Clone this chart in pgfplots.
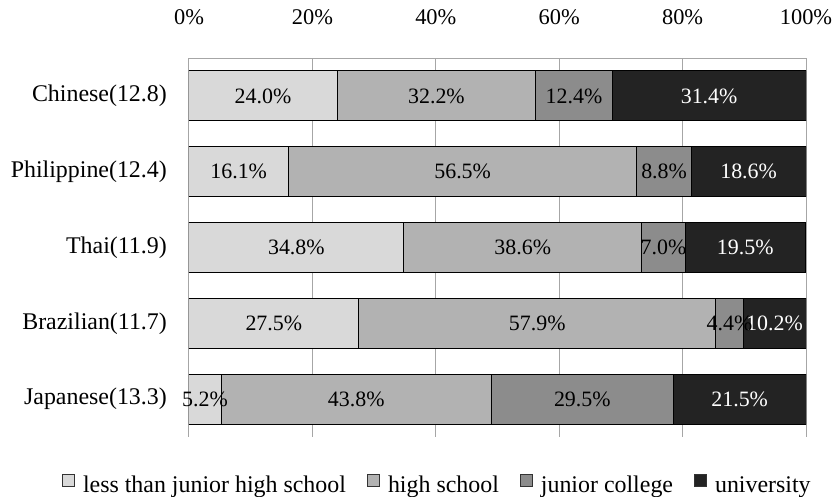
\documentclass[border=0pt]{standalone}
\usepackage{pgfplots}
\pgfplotsset{compat=1.18}
\usepackage{pgfplotstable}
\usepackage{fontspec}
\setmainfont{Liberation Serif}
\definecolor{cA}{HTML}{D9D9D9}
\definecolor{cB}{HTML}{B2B2B2}
\definecolor{cC}{HTML}{8C8C8C}
\definecolor{cD}{HTML}{232323}
\definecolor{gridc}{HTML}{A6A6A6}

\pgfplotstableread{
y v
0 24.0
1 16.1
2 34.8
3 27.5
4 5.2
}\tA
\pgfplotstableread{
y v
0 32.2
1 56.5
2 38.6
3 57.9
4 43.8
}\tB
\pgfplotstableread{
y v
0 12.4
1 8.8
2 7.0
3 4.4
4 29.5
}\tC
\pgfplotstableread{
y v
0 31.4
1 18.6
2 19.5
3 10.2
4 21.5
}\tD

\begin{document}
\fontsize{24}{28}\selectfont
\begin{tikzpicture}
\useasboundingbox (-189bp,-60bp) rectangle (646bp,437bp);
\begin{axis}[
  at={(0,0)}, anchor=south west,
  scale only axis,
  width=617bp, height=379bp,
  xbar stacked,
  bar width=50bp,
  xmin=0, xmax=100,
  ymin=-0.5, ymax=4.5,
  y dir=reverse,
  axis x line*=top,
  axis y line*=left,
  axis line style={gridc, line width=1bp},
  /pgf/number format/assume math mode=true,
  xtick={0,20,40,60,80,100},
  xticklabels={0\%,20\%,40\%,60\%,80\%,100\%},
  ytick={0,1,2,3,4},
  yticklabels={Chinese(12.8),Philippine(12.4),Thai(11.9),Brazilian(11.7),Japanese(13.3)},
  major tick length=0pt,
  xmajorgrids,
  grid style={gridc, line width=1bp},
  xticklabel style={yshift=25bp, font=\fontsize{22.5}{27}\selectfont},
  yticklabel style={xshift=-14bp},
  point meta=\thisrow{v},
  nodes near coords={\pgfmathprintnumber[fixed,fixed zerofill,precision=1,assume math mode=true]{\pgfplotspointmeta}\%},
  nodes near coords align={center},
  every node near coord/.append style={anchor=center, inner sep=0pt, font=\fontsize{22}{26}\selectfont},
  legend columns=4,
  legend style={draw=none, fill=none, at={(axis description cs:-0.2058,-0.1266)}, anchor=west,
    /tikz/every odd column/.append style={column sep=8bp},
    /tikz/every even column/.append style={column sep=21bp},
    nodes={inner sep=0pt},
    inner sep=0pt, outer sep=0pt},
  legend cell align=left,
  legend image code/.code={\draw[#1, draw=black!80, line width=1bp] (0bp,0bp) rectangle (12bp,12bp);},
]
\addplot[fill=cA, draw=black, line width=1bp] table[x=v, y=y] {\tA};
\addlegendentry{less than junior high school}
\addplot[fill=cB, draw=black, line width=1bp] table[x=v, y=y] {\tB};
\addlegendentry{high school}
\addplot[fill=cC, draw=black, line width=1bp] table[x=v, y=y] {\tC};
\addlegendentry{junior college}
\addplot[fill=cD, draw=black, line width=1bp, every node near coord/.append style={text=white}] table[x=v, y=y] {\tD};
\addlegendentry{university}
\end{axis}
\end{tikzpicture}
\end{document}
